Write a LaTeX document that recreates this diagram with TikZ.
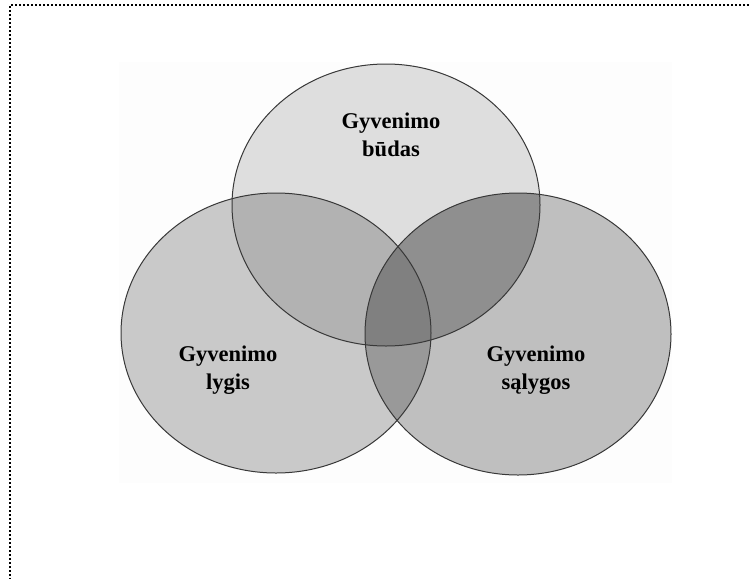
\documentclass[tikz,border=0pt]{standalone}
\usepackage{fontspec}
\setmainfont{Liberation Serif}
\begin{document}
\begin{tikzpicture}[x=1pt,y=-1pt,
  lbl/.style={font=\bfseries\fontsize{22.5}{28}\selectfont, align=center, text=black},
  ring/.style={draw=black!78, line width=1pt},
  frameline/.style={draw=black, line width=1.6pt, dash pattern=on 1.6pt off 2.4pt}]
\useasboundingbox (0,0) rectangle (749,579);
% faint background
\fill[black!0.8] (119,62) rectangle (672,483);
% frame (top and left edges)
\coordinate (ftl) at (10,5);
\coordinate (ftr) at (749,5);
\coordinate (fbl) at (10,579);
\draw[frameline] (ftr) -- (ftl) -- (fbl);
% ellipse geometry
\def\topE{(386,205) ellipse [x radius=154, y radius=141]}
\def\leftE{(276,333) ellipse [x radius=155, y radius=140]}
\def\rightE{(518,334) ellipse [x radius=153, y radius=141]}
% base fills
\fill[black!13] \topE;
\fill[black!21] \leftE;
\fill[black!25] \rightE;
% overlaps
\begin{scope}
  \clip \topE;
  \fill[black!30] \leftE;
  \fill[black!44] \rightE;
\end{scope}
\begin{scope}
  \clip \leftE;
  \fill[black!40] \rightE;
  \clip \topE;
  \fill[black!50] \rightE;
\end{scope}
% outlines
\draw[ring] \topE;
\draw[ring] \leftE;
\draw[ring] \rightE;
% labels
\node[lbl] (ltop) at (391,135) {Gyvenimo\\būdas};
\node[lbl] (lleft) at (228,370) {Gyvenimo\\lygis};
\node[lbl] (lright) at (536,370) {Gyvenimo\\sąlygos};
\end{tikzpicture}
\end{document}
